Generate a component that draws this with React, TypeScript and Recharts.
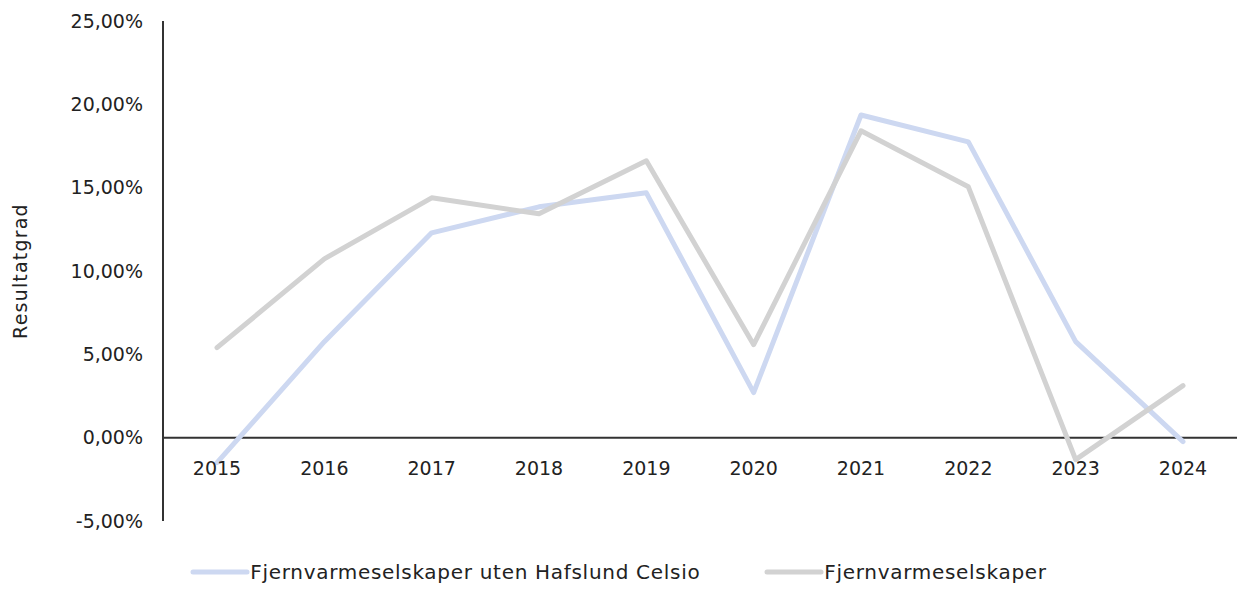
import { LineChart, Line, XAxis, YAxis, ReferenceLine, Legend, Label } from 'recharts';

// Resultatgrad per år (%)
const years = ['2015', '2016', '2017', '2018', '2019', '2020', '2021', '2022', '2023', '2024'];
const utenHafslund = [-1.5, 5.76, 12.29, 13.85, 14.69, 2.7, 19.36, 17.75, 5.76, -0.24];
const alleSelskaper = [5.4, 10.73, 14.39, 13.43, 16.61, 5.58, 18.41, 15.05, -1.32, 3.12];
const yTicks = [-5, 0, 5, 10, 15, 20, 25];

const seriesNames = ['Fjernvarmeselskaper uten Hafslund Celsio', 'Fjernvarmeselskaper'];

const data = years.map((year, i) => ({
  year,
  uten: utenHafslund[i],
  alle: alleSelskaper[i],
}));

const FONT = '"DejaVu Sans", sans-serif';
const BLUE = '#cdd8f1';
const GRAY = '#d2d2d2';
const legendColors = [BLUE, GRAY];

const Y_MIN = -5;
const Y_MAX = 25;
const MARGIN = { top: 21, right: 7, bottom: 0, left: 0 };
const PLOT_H = 500;

// x-axis labels sit just below the zero line, not at the bottom of the plot
const YearTick = ({ x, y, payload }: any) => {
  const lift = (PLOT_H * (0 - Y_MIN)) / (Y_MAX - Y_MIN);
  return (
    <text x={x} y={y - lift + 29} textAnchor="middle" fill="#222" fontSize={19} fontFamily={FONT}>
      {payload.value}
    </text>
  );
};

const LegendContent = () => (
  <div style={{ display: 'flex', justifyContent: 'center', gap: 64, fontFamily: FONT, fontSize: 20, letterSpacing: 0.7, color: '#222', height: 40, alignItems: 'center' }}>
    {seriesNames.map((name, i) => (
      <div key={name} style={{ display: 'flex', alignItems: 'center' }}>
        <svg width={60} height={10}>
          <line x1={3} y1={5} x2={57} y2={5} stroke={legendColors[i]} strokeWidth={5} strokeLinecap="round" />
        </svg>
        <span>{name}</span>
      </div>
    ))}
  </div>
);

export default function App() {
  return (
    <div style={{ position: 'absolute', left: 0, top: 0, width: 1244, height: 592, background: '#fff' }}>
      <LineChart width={1244} height={592} data={data} margin={MARGIN}>
        <XAxis
          dataKey="year"
          axisLine={false}
          tickLine={false}
          tick={<YearTick />}
          height={31}
          interval={0}
          padding={{ left: 54, right: 54 }}
        />
        <YAxis
          domain={[Y_MIN, Y_MAX]}
          ticks={yTicks}
          width={163}
          axisLine={{ stroke: '#333', strokeWidth: 2 }}
          tickLine={false}
          tickSize={0}
          tickMargin={20}
          tick={{ fill: '#222', fontSize: 19, fontFamily: FONT }}
          tickFormatter={(v: number) => v.toFixed(2).replace('.', ',') + '%'}
        >
          <Label
            value="Resultatgrad"
            angle={-90}
            position="insideLeft"
            offset={20}
            style={{ textAnchor: 'middle', fill: '#222', fontSize: 19, letterSpacing: 1.2, fontFamily: FONT }}
          />
        </YAxis>
        <ReferenceLine y={0} stroke="#333" strokeWidth={2} />
        <Legend verticalAlign="bottom" content={<LegendContent />} />
        <Line
          type="linear"
          dataKey="uten"
          name={seriesNames[0]}
          stroke={BLUE}
          strokeWidth={5}
          strokeLinecap="round"
          strokeLinejoin="round"
          dot={false}
          isAnimationActive={false}
        />
        <Line
          type="linear"
          dataKey="alle"
          name={seriesNames[1]}
          stroke={GRAY}
          strokeWidth={5}
          strokeLinecap="round"
          strokeLinejoin="round"
          dot={false}
          isAnimationActive={false}
        />
      </LineChart>
    </div>
  );
}
